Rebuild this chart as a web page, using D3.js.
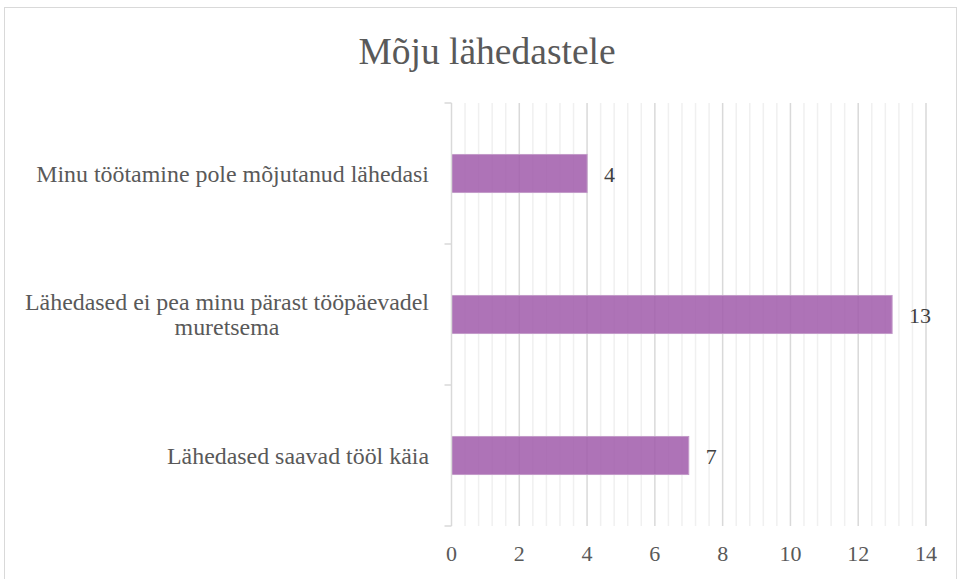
<!DOCTYPE html>
<html><head><meta charset="utf-8">
<script src="https://cdn.jsdelivr.net/npm/d3@7"></script>
<style>body{margin:0;background:#fff}svg{display:block}</style>
</head><body>
<script>
const title = "Mõju lähedastele";
const categories = [
  ["Minu töötamine pole mõjutanud lähedasi"],
  ["Lähedased ei pea minu pärast tööpäevadel", "muretsema"],
  ["Lähedased saavad tööl käia"]
];
const values = [4, 13, 7];
const majorTicks = [0, 2, 4, 6, 8, 10, 12, 14];

const W = 957, H = 579;
const m = {left: 451.5, right: 926, top: 103, bottom: 526};
const svg = d3.select("body").append("svg").attr("width", W).attr("height", H);
const font = "Liberation Serif";
const txtCol = "#595959";

svg.append("rect").attr("x", 4.5).attr("y", 7.5).attr("width", W - 5).attr("height", H - 6)
  .attr("fill", "#fff").attr("stroke", "#d9d9d9");

const x = d3.scaleLinear().domain([0, 14]).range([m.left, m.right]);
const y = d3.scaleBand().domain(d3.range(categories.length)).range([m.top, m.bottom]).paddingInner(0.73).paddingOuter(0.365);

// minor gridlines
const minor = d3.range(0, 14.001, 0.4).filter(v => Math.abs(v / 2 - Math.round(v / 2)) > 1e-6);
svg.append("g").selectAll("line").data(minor).join("line")
  .attr("x1", d => x(d)).attr("x2", d => x(d)).attr("y1", m.top).attr("y2", m.bottom)
  .attr("stroke", "#f0f0f0").attr("stroke-width", 1.5);
svg.append("g").selectAll("line").data(majorTicks.slice(1)).join("line")
  .attr("x1", d => x(d)).attr("x2", d => x(d)).attr("y1", m.top).attr("y2", m.bottom)
  .attr("stroke", "#d9d9d9").attr("stroke-width", 1.5);

// bars
svg.append("g").selectAll("rect").data(values).join("rect")
  .attr("x", x(0)).attr("y", (d, i) => y(i)).attr("width", d => x(d) - x(0)).attr("height", y.bandwidth())
  .attr("fill", "#a05aaa").attr("fill-opacity", 0.85).attr("stroke", "#c39ac9").attr("stroke-width", 1);

// y axis
const step = (m.bottom - m.top) / categories.length;
svg.append("line").attr("x1", m.left).attr("x2", m.left).attr("y1", m.top).attr("y2", m.bottom)
  .attr("stroke", "#d9d9d9").attr("stroke-width", 1.5);
svg.append("g").selectAll("line").data(d3.range(categories.length + 1)).join("line")
  .attr("x1", m.left - 7).attr("x2", m.left).attr("y1", d => m.top + d * step).attr("y2", d => m.top + d * step)
  .attr("stroke", "#d9d9d9").attr("stroke-width", 1.5);

// category labels
const labSize = 23.9;
const lab = svg.append("g").selectAll("text").data(categories).join("text")
  .style("font-family", font).attr("font-size", labSize).attr("fill", txtCol).attr("text-anchor", "middle");
lab.each(function(lines, i) {
  const t = d3.select(this);
  const cy = y(i) + y.bandwidth() / 2;
  const lh = 25;
  const tmp = svg.append("text").style("font-family", font).attr("font-size", labSize);
  let maxW = 0;
  lines.forEach(l => { tmp.text(l); maxW = Math.max(maxW, tmp.node().getComputedTextLength()); });
  tmp.remove();
  const cx = 429 - maxW / 2;
  lines.forEach((l, j) => {
    t.append("tspan").attr("x", cx).attr("y", cy + 8 + (j - (lines.length - 1) / 2) * lh).text(l);
  });
});

// value labels
svg.append("g").selectAll("text").data(values).join("text")
  .attr("x", d => x(d) + 17).attr("y", (d, i) => y(i) + y.bandwidth() / 2 + 8.5)
  .style("font-family", font).attr("font-size", 22).attr("fill", "#404040").text(d => d);

// x tick labels
svg.append("g").selectAll("text").data(majorTicks).join("text")
  .attr("x", d => x(d)).attr("y", 561).attr("text-anchor", "middle")
  .style("font-family", font).attr("font-size", 22).attr("fill", txtCol).text(d => d);

// title
svg.append("text").attr("x", 487).attr("y", 64).attr("text-anchor", "middle")
  .style("font-family", font).attr("font-size", 37.5).attr("fill", txtCol).text(title);
</script>
</body></html>
